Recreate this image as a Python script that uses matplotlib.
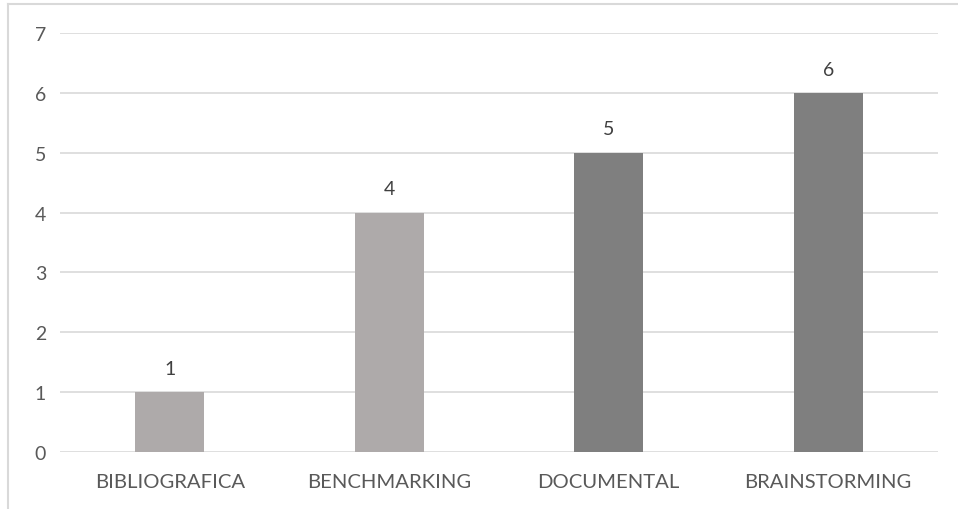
import matplotlib
matplotlib.use("Agg")
import matplotlib.pyplot as plt
from matplotlib.lines import Line2D

categories = ["BIBLIOGRAFICA", "BENCHMARKING", "DOCUMENTAL", "BRAINSTORMING"]
values = [1, 4, 5, 6]
colors = ["#AEAAAA", "#AEAAAA", "#7F7F7F", "#7F7F7F"]
yticks = [0, 1, 2, 3, 4, 5, 6, 7]

plt.rcParams['font.family'] = ['Lato', 'DejaVu Sans']
W, H = 958, 510
fig = plt.figure(figsize=(W/100, H/100), dpi=100)
ax = fig.add_axes([60/W, 1-453/H, 878/W, 419/H])

x = range(len(categories))
bars = ax.bar(x, values, width=0.315, color=colors, zorder=3)
for xi, v in zip(x, values):
    ax.annotate(str(v), (xi, v), xytext=(0, 11), textcoords="offset points",
                ha="center", va="bottom", fontsize=14, color="#404040")

ax.set_xlim(-0.5, len(categories)-0.5)
ax.set_ylim(0, 7)
ax.set_yticks(yticks)
ax.set_xticks(list(x))
ax.set_xticklabels(categories)
ax.yaxis.grid(True, color="#D9D9D9", linewidth=1.2, zorder=0)
ax.set_axisbelow(True)
for s in ax.spines.values():
    s.set_visible(False)
ax.tick_params(axis='both', length=0, labelsize=14, colors="#595959")
ax.tick_params(axis='x', pad=15, labelsize=14.6)
ax.tick_params(axis='y', pad=10)

# outer chart frame (left and top edges visible)
fig.add_artist(Line2D([7.5/W, 7.5/W], [0, 1-5/H], transform=fig.transFigure, color="#D9D9D9", linewidth=1.5))
fig.add_artist(Line2D([7.5/W, 1], [1-5/H, 1-5/H], transform=fig.transFigure, color="#D9D9D9", linewidth=1.5))

fig.savefig("out.png", dpi=100, facecolor="white")
